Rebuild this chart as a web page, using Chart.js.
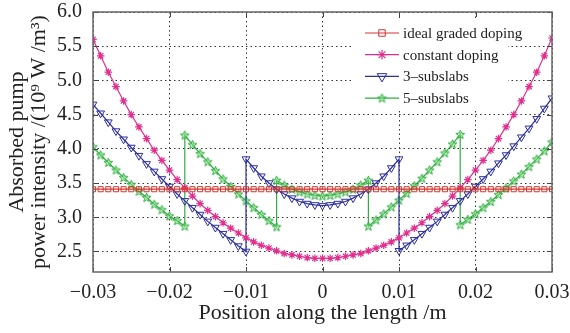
<!DOCTYPE html>
<html>
<head>
<meta charset="utf-8">
<script src="https://cdn.jsdelivr.net/npm/chart.js@4.4.1/dist/chart.umd.min.js"></script>
<style>
  html, body { margin: 0; padding: 0; background: #fff; }
</style>
</head>
<body>
<canvas id="chart" width="570" height="333"></canvas>
<script>
// positions along the slab (m)
var pos = [-0.030, -0.029, -0.028, -0.027, -0.026, -0.025, -0.024, -0.023, -0.022, -0.021,
           -0.020, -0.019, -0.018, -0.017, -0.016, -0.015, -0.014, -0.013, -0.012, -0.011,
           -0.010, -0.009, -0.008, -0.007, -0.006, -0.005, -0.004, -0.003, -0.002, -0.001,
           0,
           0.001, 0.002, 0.003, 0.004, 0.005, 0.006, 0.007, 0.008, 0.009, 0.010,
           0.011, 0.012, 0.013, 0.014, 0.015, 0.016, 0.017, 0.018, 0.019, 0.020,
           0.021, 0.022, 0.023, 0.024, 0.025, 0.026, 0.027, 0.028, 0.029, 0.030];

var xTicks = [-0.03, -0.02, -0.01, 0, 0.01, 0.02, 0.03];
var yTicks = [2.5, 3.0, 3.5, 4.0, 4.5, 5.0, 5.5, 6.0];

var ideal = [3.41, 3.41, 3.41, 3.41, 3.41, 3.41, 3.41, 3.41, 3.41, 3.41,
             3.41, 3.41, 3.41, 3.41, 3.41, 3.41, 3.41, 3.41, 3.41, 3.41,
             3.41, 3.41, 3.41, 3.41, 3.41, 3.41, 3.41, 3.41, 3.41, 3.41,
             3.41,
             3.41, 3.41, 3.41, 3.41, 3.41, 3.41, 3.41, 3.41, 3.41, 3.41,
             3.41, 3.41, 3.41, 3.41, 3.41, 3.41, 3.41, 3.41, 3.41, 3.41,
             3.41, 3.41, 3.41, 3.41, 3.41, 3.41, 3.41, 3.41, 3.41, 3.41];

var constant = [5.60, 5.36, 5.12, 4.91, 4.70, 4.50, 4.32, 4.15, 3.98, 3.83,
                3.69, 3.55, 3.43, 3.31, 3.20, 3.10, 3.01, 2.92, 2.84, 2.77,
                2.70, 2.64, 2.59, 2.55, 2.51, 2.47, 2.45, 2.43, 2.41, 2.40,
                2.40,
                2.40, 2.41, 2.43, 2.45, 2.47, 2.51, 2.55, 2.59, 2.64, 2.70,
                2.77, 2.84, 2.92, 3.01, 3.10, 3.20, 3.31, 3.43, 3.55, 3.69,
                3.83, 3.98, 4.15, 4.32, 4.50, 4.70, 4.91, 5.12, 5.36, 5.62];

// 3 subslabs: [-0.03,-0.01], [-0.01,0.01], [0.01,0.03]
var sub3A = [4.65, 4.52, 4.39, 4.26, 4.14, 4.02, 3.90, 3.78, 3.67, 3.56, 3.45,
             3.34, 3.24, 3.14, 3.04, 2.94, 2.85, 2.76, 2.67, 2.58, 2.50];
var sub3B = [3.85, 3.72, 3.60, 3.50, 3.41, 3.34, 3.28, 3.23, 3.20, 3.18, 3.17,
             3.18, 3.20, 3.23, 3.28, 3.34, 3.41, 3.50, 3.60, 3.72, 3.85];
var sub3C = [2.51, 2.59, 2.67, 2.76, 2.85, 2.94, 3.04, 3.14, 3.24, 3.34, 3.45,
             3.56, 3.67, 3.79, 3.91, 4.04, 4.17, 4.30, 4.44, 4.59, 4.74];

// 5 subslabs: boundaries at +-0.018 and +-0.006
var sub5A = [4.03, 3.91, 3.80, 3.69, 3.58, 3.48, 3.38, 3.29, 3.19, 3.11, 3.02, 2.95, 2.87];
var sub5B = [4.20, 4.06, 3.93, 3.81, 3.68, 3.56, 3.45, 3.34, 3.24, 3.14, 3.04, 2.95, 2.86];
var sub5C = [3.54, 3.47, 3.41, 3.37, 3.34, 3.32, 3.31, 3.32, 3.34, 3.37, 3.41, 3.47, 3.54];
var sub5D = [2.87, 2.96, 3.05, 3.15, 3.25, 3.35, 3.46, 3.57, 3.69, 3.81, 3.94, 4.07, 4.21];
var sub5E = [2.89, 2.97, 3.05, 3.14, 3.23, 3.33, 3.43, 3.53, 3.63, 3.74, 3.85, 3.97, 4.10];

function seg(vals, start) {
    return vals.map(function (v, i) { return { x: pos[start + i], y: v }; });
}

// pentagram marker for the 5-subslab curve
function pentagram(color) {
    var c = document.createElement('canvas');
    c.width = 11; c.height = 11;
    var g = c.getContext('2d');
    g.beginPath();
    for (var i = 0; i < 10; i++) {
        var r = (i % 2 === 0) ? 4.7 : 2.0;
        var a = -Math.PI / 2 + i * Math.PI / 5;
        var px = 5.5 + r * Math.cos(a), py = 5.8 + r * Math.sin(a);
        if (i === 0) g.moveTo(px, py); else g.lineTo(px, py);
    }
    g.closePath();
    g.fillStyle = 'rgba(130,220,130,0.5)';
    g.fill();
    g.strokeStyle = color;
    g.lineWidth = 1;
    g.stroke();
    return c;
}

var fontName = "'Liberation Serif', 'Times New Roman', serif";

var frame = {
    id: 'frame',
    afterDatasetsDraw: function (chart) {
        var ctx = chart.ctx, a = chart.chartArea;
        var xs = chart.scales.x, ys = chart.scales.y;
        ctx.save();
        ctx.setLineDash([]);
        ctx.strokeStyle = '#444';
        ctx.lineWidth = 1;
        ctx.beginPath();
        xs.ticks.forEach(function (t) {
            var px = Math.round(xs.getPixelForValue(t.value)) + 0.5;
            ctx.moveTo(px, a.bottom); ctx.lineTo(px, a.bottom - 5);
            ctx.moveTo(px, a.top); ctx.lineTo(px, a.top + 5);
        });
        ys.ticks.forEach(function (t) {
            var py = Math.round(ys.getPixelForValue(t.value)) + 0.5;
            ctx.moveTo(a.left, py); ctx.lineTo(a.left + 5, py);
            ctx.moveTo(a.right, py); ctx.lineTo(a.right - 5, py);
        });
        ctx.stroke();
        ctx.strokeStyle = '#666';
        ctx.lineWidth = 1.5;
        ctx.strokeRect(a.left, a.top, a.right - a.left, a.bottom - a.top);

        // legend inside the plot, top right
        var lx = a.left + 260, ly = a.top + 8;
        ctx.fillStyle = '#fff';
        ctx.fillRect(lx, ly, 155, 90);
        ctx.font = '15px ' + fontName;
        ctx.textBaseline = 'middle';
        chart.data.datasets.forEach(function (ds, i) {
            var y = a.top + 21 + i * 21.7;
            var x0 = a.left + 272, x1 = a.left + 306;
            ctx.strokeStyle = ds.borderColor;
            ctx.lineWidth = 1.2;
            ctx.beginPath();
            ctx.moveTo(x0, y); ctx.lineTo(x1, y);
            ctx.stroke();
            ctx.strokeStyle = ds.pointBorderColor;
            ctx.fillStyle = ds.pointBackgroundColor;
            ctx.lineWidth = ds.pointBorderWidth;
            Chart.helpers.drawPoint(ctx, {
                pointStyle: ds.pointStyle,
                rotation: ds.pointRotation || 0,
                radius: ds.pointRadius + 1,
                borderWidth: ds.pointBorderWidth
            }, (x0 + x1) / 2, y);
            ctx.fillStyle = '#222';
            ctx.fillText(ds.label, a.left + 310, y + 1);
        });
        ctx.restore();
    }
};

var ctx = document.getElementById('chart').getContext('2d');
var chart = new Chart(ctx, {
    type: 'line',
    data: {
        datasets: [
            {
                label: 'ideal graded doping',
                data: seg(ideal, 0),
                borderColor: '#d8352e',
                pointBorderColor: '#d8352e',
                pointBackgroundColor: 'rgba(255,255,255,0)',
                pointStyle: 'rect',
                pointRadius: 3.6,
                pointBorderWidth: 1
            },
            {
                label: 'constant doping',
                data: seg(constant, 0),
                borderColor: '#e0308e',
                pointBorderColor: '#e0308e',
                pointBackgroundColor: '#e0308e',
                pointStyle: 'star',
                pointRadius: 3.8,
                pointBorderWidth: 1.2
            },
            {
                label: '3\u2013subslabs',
                data: seg(sub3A, 0).concat(seg(sub3B, 20), seg(sub3C, 40)),
                borderColor: '#2c2f9e',
                pointBorderColor: '#2c2f9e',
                pointBackgroundColor: 'rgba(255,255,255,0)',
                pointStyle: 'triangle',
                pointRotation: 180,
                pointRadius: 4.5,
                pointBorderWidth: 1
            },
            {
                label: '5\u2013subslabs',
                data: seg(sub5A, 0).concat(seg(sub5B, 12), seg(sub5C, 24), seg(sub5D, 36), seg(sub5E, 48)),
                borderColor: '#2fae41',
                pointBorderColor: '#2fae41',
                pointBackgroundColor: 'rgba(130,220,130,0.5)',
                pointStyle: pentagram('#2fae41'),
                pointRadius: 4.5,
                pointBorderWidth: 1
            }
        ]
    },
    options: {
        responsive: false,
        animation: false,
        devicePixelRatio: 1,
        layout: { padding: { left: 0, right: 18, top: 12, bottom: 0 } },
        elements: { line: { borderWidth: 1.2, tension: 0 } },
        plugins: { legend: { display: false }, tooltip: { enabled: false } },
        scales: {
            x: {
                type: 'linear',
                min: -0.03,
                max: 0.03,
                afterBuildTicks: function (s) { s.ticks = xTicks.map(function (v) { return { value: v }; }); },
                afterFit: function (s) {
                    s.height = 61;
                    s.paddingLeft = 0;
                    s.paddingRight = 0;
                },
                ticks: {
                    padding: 11,
                    color: '#222',
                    maxRotation: 0,
                    font: { family: fontName, size: 20, lineHeight: 1.0 },
                    callback: function (v) {
                        if (v === 0) return '0';
                        return (v < 0 ? '\u2212' : '') + Math.abs(v).toFixed(2);
                    }
                },
                grid: { color: '#333', lineWidth: 1, drawTicks: false },
                border: { display: false, dash: [1.5, 3] },
                title: {
                    display: true,
                    text: 'Position along the length /m',
                    color: '#222',
                    font: { family: fontName, size: 22, lineHeight: 1.0 },
                    padding: { top: 0, bottom: 9 }
                }
            },
            y: {
                min: 2.2,
                max: 6.0,
                afterBuildTicks: function (s) { s.ticks = yTicks.map(function (v) { return { value: v }; }); },
                afterFit: function (s) {
                    s.width = 93;
                    s.paddingTop = 0;
                    s.paddingBottom = 0;
                },
                ticks: {
                    padding: 11,
                    color: '#222',
                    font: { family: fontName, size: 20 },
                    callback: function (v) { return v.toFixed(1); }
                },
                grid: { color: '#333', lineWidth: 1, drawTicks: false },
                border: { display: false, dash: [1.5, 3] },
                title: {
                    display: true,
                    text: ['Absorbed pump', 'power intensity /(10\u2079 W /m\u00b3)'],
                    color: '#222',
                    font: { family: fontName, size: 22, lineHeight: 1.0 },
                    padding: { top: 6, bottom: 0 }
                }
            }
        }
    },
    plugins: [frame]
});
</script>
</body>
</html>
